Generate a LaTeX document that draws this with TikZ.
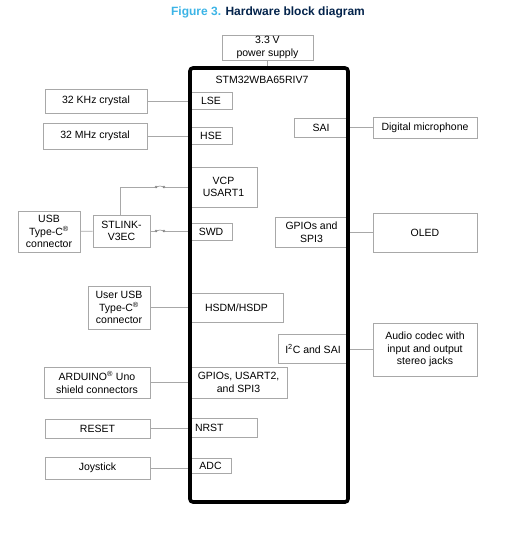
\documentclass[tikz,border=0pt]{standalone}
\usepackage{fontspec}
\setmainfont{Liberation Sans}
\usetikzlibrary{positioning}
\definecolor{stblue}{HTML}{3CB4E6}
\definecolor{stnavy}{HTML}{03234B}
\definecolor{boxgray}{HTML}{A8A8A8}
\tikzset{
  blk/.style={draw=boxgray,line width=0.8pt,align=center,inner sep=1pt,fill=white,
    font=\fontsize{10.5}{12.5}\selectfont},
  wire/.style={draw=boxgray,line width=0.9pt},
  jmp/.style={draw=gray,line width=0.5pt},
}

\begin{document}
\begin{tikzpicture}[x=1pt,y=-1pt]
\useasboundingbox (0,0) rectangle (508,535);
\node[font=\bfseries\fontsize{12}{14}\selectfont] (title) at (268,12)
  {\textcolor{stblue}{Figure 3.} \textcolor{stnavy}{Hardware block diagram}};
\node[blk,minimum width=91pt,minimum height=25pt] (pwr) at (267.5,47.5) {3.3 V\\power supply};
% external parts, left
\node[blk,minimum width=102pt,minimum height=24pt] (k32) at (96,101) {32 KHz crystal};
\node[blk,minimum width=104pt,minimum height=26pt] (m32) at (95,136) {32 MHz crystal};
\node[blk,minimum width=57pt,minimum height=32pt] (stlink) at (121.5,231) {STLINK-\\V3EC};
\node[blk,minimum width=62pt,minimum height=41pt] (usbc) at (49,231.5) {USB\\Type-C\textsuperscript{®}\\connector};
\node[blk,minimum width=62pt,minimum height=43pt] (userusb) at (119,307.5) {User USB\\Type-C\textsuperscript{®}\\connector};
\node[blk,minimum width=106pt,minimum height=31pt] (arduino) at (97,382.5) {ARDUINO\textsuperscript{®} Uno\\shield connectors};
\node[blk,minimum width=105pt,minimum height=19pt] (reset) at (97.5,428.5) {RESET};
\node[blk,minimum width=105pt,minimum height=22pt] (joy) at (97.5,468) {Joystick};
% external parts, right
\node[blk,minimum width=104pt,minimum height=21pt] (mic) at (425,127.5) {Digital microphone};
\node[blk,minimum width=104pt,minimum height=39pt] (oled) at (425,232.5) {OLED};
\node[blk,minimum width=104pt,minimum height=53pt] (codec) at (425,349.5) {Audio codec with\\input and output\\stereo jacks};
% peripherals inside the MCU
\node[blk,minimum width=42pt,minimum height=17pt] (lse) at (211,101) {LSE};
\node[blk,minimum width=42pt,minimum height=17pt] (hse) at (211,135.5) {HSE};
\node[blk,minimum width=67pt,minimum height=40pt] (vcp) at (223.5,187) {VCP\\USART1};
\node[blk,minimum width=42pt,minimum height=17pt] (swd) at (211,231.5) {SWD};
\node[blk,minimum width=93pt,minimum height=29pt] (usbif) at (236.5,307.5) {HSDM/HSDP};
\node[blk,minimum width=97pt,minimum height=31pt] (gpioa) at (238.5,382.5) {GPIOs, USART2,\\and SPI3};
\node[blk,minimum width=67pt,minimum height=19pt,text width=57pt,align=left] (nrst) at (223.5,427.5) {NRST};
\node[blk,minimum width=41pt,minimum height=15pt] (adc) at (210.5,465.5) {ADC};
\node[blk,minimum width=54pt,minimum height=19pt] (sai) at (321,127.5) {SAI};
\node[blk,minimum width=73pt,minimum height=30pt] (gpiob) at (311.5,232) {GPIOs and\\SPI3};
\node[blk,minimum width=70pt,minimum height=29pt] (i2c) at (313,348.5) {I\textsuperscript{2}C and SAI};
% the MCU
\node[draw,line width=3.6pt,rounded corners=3pt,minimum width=158pt,minimum height=434pt] (mcu) at (269,285) {};
\node[font=\fontsize{10.5}{12.5}\selectfont] (mcuname) at (262,80) {STM32WBA65RIV7};
% connections
\draw[wire] (pwr.south) -- (pwr.south |- mcu.north);
\draw[wire] (k32) -- (k32 -| mcu.west);
\draw[wire] (m32) -- (m32 -| mcu.west);
\draw[wire] (usbc) -- (stlink);
\draw[wire] (userusb) -- (userusb -| mcu.west);
\draw[wire] (arduino) -- (arduino -| mcu.west);
\draw[wire] (reset) -- (reset -| mcu.west);
\draw[wire] (joy) -- (joy -| mcu.west);
\draw[wire] (mic) -- (mic -| mcu.east);
\draw[wire] (oled) -- (oled -| mcu.east);
\draw[wire] (codec) -- (codec -| mcu.east);
% jumpers on the ST-LINK lines
\coordinate (j1a) at (156,187);
\coordinate (j1b) at (164,187);
\coordinate (j2a) at (156,231);
\coordinate (j2b) at (164,231);
\draw[wire] (stlink.north -| 120,0) |- ([xshift=-1pt]j1a);
\draw[wire] ([xshift=1pt]j1b) -- (j1b -| mcu.west);
\draw[wire] (stlink) -- ([xshift=-1pt]j2a);
\draw[wire] ([xshift=1pt]j2b) -- (j2b -| mcu.west);
\draw[jmp] (j1a) circle (1pt) (j1b) circle (1pt) (j2a) circle (1pt) (j2b) circle (1pt);
\draw[jmp] ([yshift=-1pt]j1a) to[bend left=60] ([yshift=-1pt]j1b);
\draw[jmp] ([yshift=-1pt]j2a) to[bend left=60] ([yshift=-1pt]j2b);
\end{tikzpicture}
\end{document}
